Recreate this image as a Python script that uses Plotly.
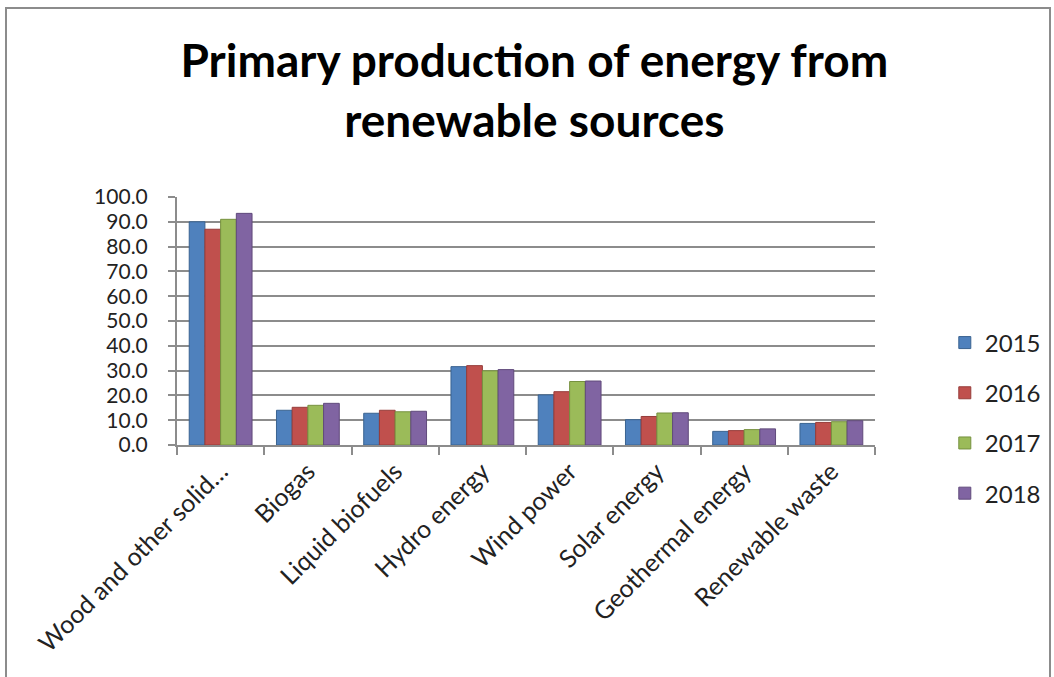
import plotly.graph_objects as go

categories = ["Wood and other solid…", "Biogas", "Liquid biofuels", "Hydro energy",
              "Wind power", "Solar energy", "Geothermal energy", "Renewable waste"]
years = ["2015", "2016", "2017", "2018"]
v2015 = [90.0, 14.0, 12.8, 31.6, 20.2, 10.2, 5.5, 8.7]
v2016 = [87.0, 15.2, 14.0, 32.0, 21.5, 11.5, 5.8, 9.1]
v2017 = [91.0, 16.0, 13.4, 29.9, 25.6, 12.9, 6.2, 9.4]
v2018 = [93.4, 16.8, 13.6, 30.4, 25.8, 13.0, 6.5, 9.8]
y_ticks = [0, 10, 20, 30, 40, 50, 60, 70, 80, 90, 100]

series = [v2015, v2016, v2017, v2018]
colors = ["#4F81BD", "#C0504D", "#9BBB59", "#8064A2"]
edge = ["#3A6390", "#963C3A", "#76913F", "#604A7B"]

FONT = "Lato, Carlito, Calibri, sans-serif"

fig = go.Figure()
for yr, vals, c, e in zip(years, series, colors, edge):
    fig.add_trace(go.Bar(
        name=yr, x=categories, y=vals, legendgroup=yr,
        marker=dict(color=c, line=dict(color=e, width=1)),
    ))

fig.update_layout(
    width=1054, height=677,
    paper_bgcolor="white", plot_bgcolor="white",
    barmode="group", bargap=0.28, bargroupgap=0,
    margin=dict(l=177, r=179, t=197, b=232, autoexpand=False),
    font=dict(family=FONT, color="#222222"),
    title=dict(
        text="<b>Primary production of energy from<br>renewable sources</b>",
        font=dict(family=FONT, size=46, color="black"),
        x=0.507, xanchor="center", xref="container",
        y=1 - 77 / 677, yanchor="middle", yref="container",
    ),
    legend=dict(
        x=1.10, xanchor="left", y=0.109, yanchor="middle",
        font=dict(family=FONT, size=24, color="#222222"),
        tracegroupgap=16, itemwidth=30,
    ),
    xaxis=dict(
        tickangle=-45, tickfont=dict(family=FONT, size=25, color="#222222"),
        showline=True, linecolor="#8c8c8c", linewidth=2,
        ticks="outside", ticklen=8, tickcolor="#8c8c8c", tickwidth=2,
        tickson="boundaries", showgrid=False,
    ),
    yaxis=dict(
        range=[0, 100], tickvals=y_ticks, tickformat=".1f",
        tickfont=dict(family=FONT, size=21, color="#222222"),
        showline=True, linecolor="#8c8c8c", linewidth=2,
        ticks="outside", ticklen=7, tickcolor="#8c8c8c", tickwidth=2,
        ticklabelstandoff=16,
        showgrid=True, gridcolor="#8c8c8c", gridwidth=2, zeroline=False,
    ),
    shapes=[dict(type="rect", xref="paper", yref="paper",
                 x0=-171 / 698, x1=873 / 698, y0=-240 / 248, y1=437 / 248,
                 line=dict(color="#8c8c8c", width=2), fillcolor="rgba(0,0,0,0)",
                 layer="below")],
)

fig.write_html("out.html")
